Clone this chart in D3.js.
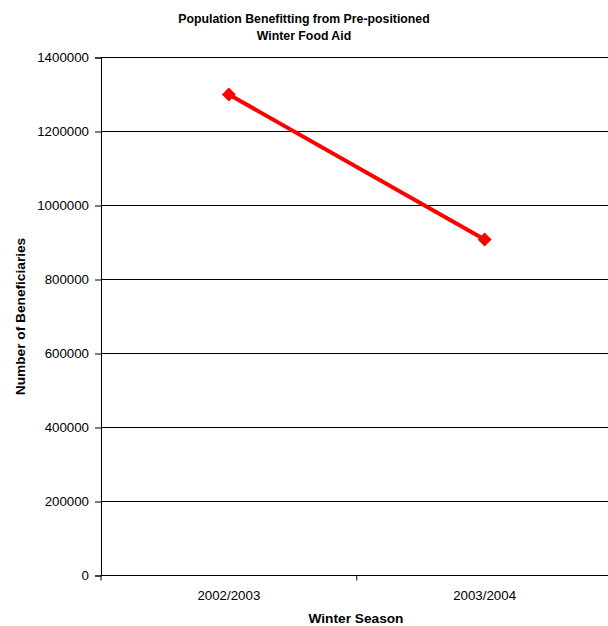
<!DOCTYPE html>
<html>
<head>
<meta charset="utf-8">
<script src="https://cdn.jsdelivr.net/npm/d3@7"></script>
<style>
  html, body { margin: 0; padding: 0; background: #fff; }
  svg { display: block; font-family: "Liberation Sans", Arial, sans-serif; }
</style>
</head>
<body>
<svg id="chart" width="608" height="626"></svg>
<script>
// Winter seasons and number of beneficiaries
const seasons = ["2002/2003", "2003/2004"];
const beneficiaries = [1300000, 908000];
const yTicks = [0, 200000, 400000, 600000, 800000, 1000000, 1200000, 1400000];
const titleLines = ["Population Benefitting from Pre-positioned", "Winter Food Aid"];

const svg = d3.select("#chart");
const W = 608, H = 626;
const plot = { left: 101, right: 612.5, top: 57.5, bottom: 575.5 };

const x = d3.scaleBand().domain(seasons).range([plot.left, plot.right]).padding(0);
const y = d3.scaleLinear().domain([0, 1400000]).range([plot.bottom, plot.top]);

// horizontal gridlines
svg.append("g")
  .selectAll("line")
  .data(yTicks.filter(d => d > 0))
  .join("line")
  .attr("x1", plot.left).attr("x2", W)
  .attr("y1", d => y(d)).attr("y2", d => y(d))
  .attr("stroke", "#000").attr("stroke-width", 1);

// y axis
const yAxis = svg.append("g")
  .attr("transform", `translate(${plot.left},0)`)
  .call(d3.axisLeft(y).tickValues(yTicks).tickSize(6).tickPadding(6).tickFormat(d3.format("d")));
yAxis.select(".domain").attr("stroke", "#000");
yAxis.selectAll(".tick line").attr("stroke", "#000");
yAxis.selectAll("text").attr("font-size", 13.3).attr("fill", "#000")
  .attr("font-family", "Liberation Sans, Arial, sans-serif");

// x axis with ticks between categories
const xAxis = svg.append("g")
  .attr("transform", `translate(0,${y(0)})`);
xAxis.append("line")
  .attr("x1", plot.left).attr("x2", W)
  .attr("stroke", "#000");
const boundaries = seasons.map(s => x(s)).concat([x(seasons[seasons.length - 1]) + x.bandwidth()]);
xAxis.selectAll(".tk").data(boundaries).join("line")
  .attr("class", "tk")
  .attr("x1", d => d).attr("x2", d => d)
  .attr("y1", 0).attr("y2", 5)
  .attr("stroke", "#000");
xAxis.selectAll("text").data(seasons).join("text")
  .attr("x", d => x(d) + x.bandwidth() / 2)
  .attr("y", 24.5)
  .attr("text-anchor", "middle")
  .attr("font-size", 13.3)
  .attr("fill", "#000")
  .text(d => d);

// line series
const pts = seasons.map((s, i) => [x(s) + x.bandwidth() / 2, y(beneficiaries[i])]);
svg.append("path")
  .datum(pts)
  .attr("d", d3.line())
  .attr("fill", "none")
  .attr("stroke", "#ff0000")
  .attr("stroke-width", 4);

// diamond markers
svg.selectAll(".mk").data(pts).join("path")
  .attr("class", "mk")
  .attr("transform", d => `translate(${d[0]},${d[1]})`)
  .attr("d", "M0,-7L7,0L0,7L-7,0Z")
  .attr("fill", "#ff0000");

// title
svg.append("text")
  .attr("x", 304).attr("y", 22.5)
  .attr("text-anchor", "middle")
  .attr("font-size", 12.3).attr("font-weight", "bold")
  .selectAll("tspan").data(titleLines).join("tspan")
  .attr("x", 304)
  .attr("dy", (d, i) => i === 0 ? 0 : 17.5)
  .text(d => d);

// axis titles
svg.append("text")
  .attr("x", 356).attr("y", 622.5)
  .attr("text-anchor", "middle")
  .attr("font-size", 13.7).attr("font-weight", "bold")
  .text("Winter Season");

svg.append("text")
  .attr("transform", `translate(25,${(plot.top + plot.bottom) / 2}) rotate(-90)`)
  .attr("text-anchor", "middle")
  .attr("font-size", 13.7).attr("font-weight", "bold")
  .text("Number of Beneficiaries");
</script>
</body>
</html>
